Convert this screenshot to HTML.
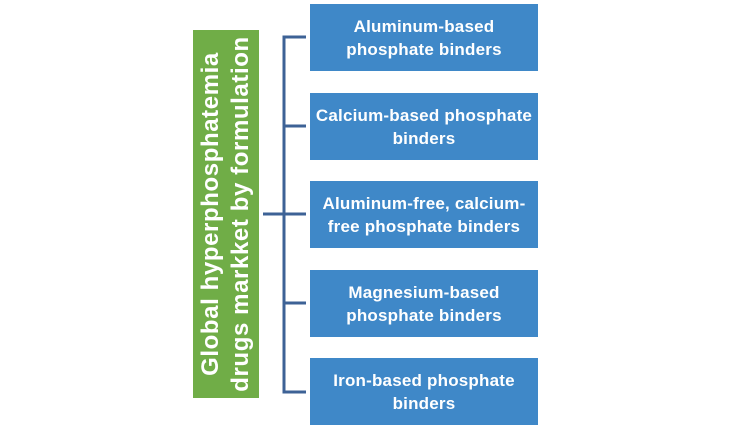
<!DOCTYPE html>
<html><head><style>
body{margin:0;width:731px;height:429px;background:#fff;position:relative;overflow:hidden;font-family:"Liberation Sans",sans-serif;}
.b{position:absolute;left:310px;width:228px;height:67px;background:#3f88c8;color:#fff;font-weight:bold;font-size:17px;line-height:23px;letter-spacing:0.2px;display:flex;align-items:center;justify-content:center;text-align:center;white-space:nowrap;}
.g{position:absolute;left:193px;top:30px;width:66px;height:368px;background:#70ad47;}
.gt{position:absolute;left:226px;top:214px;width:368px;transform:translate(-50%,-50%) rotate(-90deg);color:#fff;font-weight:bold;font-size:24px;line-height:30px;letter-spacing:0.6px;text-align:center;white-space:nowrap;}
</style></head><body>
<div class="g"></div>
<div class="gt">Global hyperphosphatemia<br>drugs markket by formulation</div>
<svg width="731" height="429" style="position:absolute;left:0;top:0">
<g stroke="#3d6296" stroke-width="3" fill="none">
<path d="M306 37H284V392H306"/>
<path d="M284 126H306M263 214H306M284 303H306"/>
</g></svg>
<div class="b" style="top:4px">Aluminum-based<br>phosphate binders</div>
<div class="b" style="top:93px">Calcium-based phosphate<br>binders</div>
<div class="b" style="top:181px">Aluminum-free, calcium-<br>free phosphate binders</div>
<div class="b" style="top:270px">Magnesium-based<br>phosphate binders</div>
<div class="b" style="top:358px">Iron-based phosphate<br>binders</div>
</body></html>
